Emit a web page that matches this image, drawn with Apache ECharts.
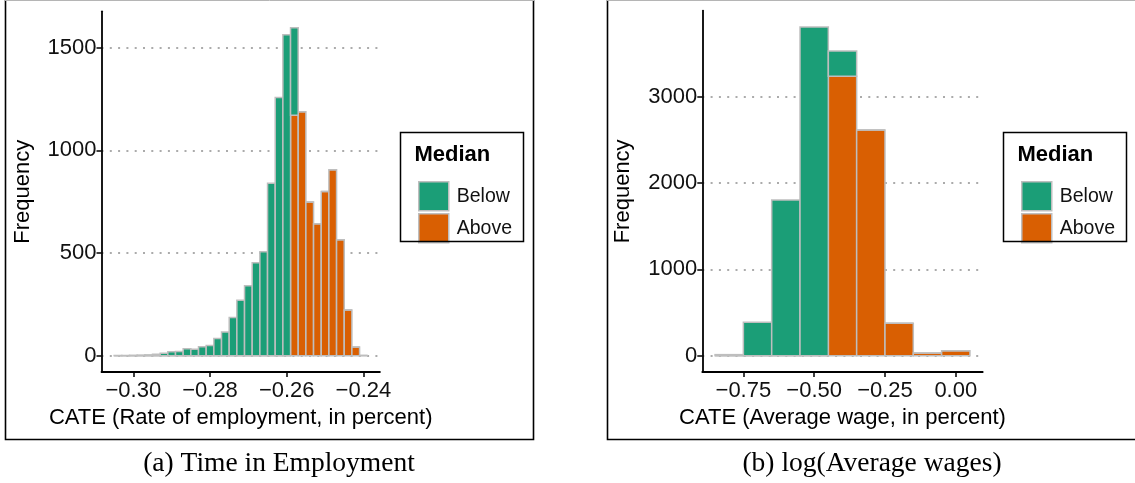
<!DOCTYPE html>
<html>
<head>
<meta charset="utf-8">
<script src="https://cdn.jsdelivr.net/npm/echarts@6/dist/echarts.min.js"></script>
<style>
  html, body { margin: 0; padding: 0; background: #ffffff; }
  #chart { width: 1135px; height: 483px; }
</style>
</head>
<body>
<div id="chart"></div>
<script>
// Panel (a): CATE on rate of employment, bins of width 0.002
const empBinWidth = 0.002;
const empCenters = [-0.304, -0.302, -0.300, -0.298, -0.296, -0.294, -0.292, -0.290, -0.288, -0.286,
                    -0.284, -0.282, -0.280, -0.278, -0.276, -0.274, -0.272, -0.270, -0.268, -0.266,
                    -0.264, -0.262, -0.260, -0.258, -0.256, -0.254, -0.252, -0.250, -0.248, -0.246,
                    -0.244, -0.242, -0.240];
const empBelow = [1, 1, 2, 3, 4, 7, 12, 19, 20, 34,
                  31, 44, 50, 84, 115, 186, 270, 340, 453, 506,
                  840, 1257, 1563, 426, 0, 0, 0, 0, 0, 0,
                  0, 0, 0];
const empAbove = [0, 0, 0, 0, 0, 0, 0, 0, 0, 0,
                  0, 0, 0, 0, 0, 0, 0, 0, 0, 0,
                  0, 0, 0, 1171, 1188, 748, 642, 799, 905, 565,
                  223, 42, 1];
const empXTicks = [-0.30, -0.28, -0.26, -0.24];
const empYTicks = [0, 500, 1000, 1500];

// Panel (b): CATE on log average wages, bins of width 0.1
const wageBinWidth = 0.1;
const wageCenters = [-0.8, -0.7, -0.6, -0.5, -0.4, -0.3, -0.2, -0.1, 0.0];
const wageBelow = [12, 386, 1803, 3807, 293, 0, 0, 0, 0];
const wageAbove = [0, 0, 0, 0, 3236, 2614, 375, 30, 58];
const wageXTicks = [-0.75, -0.50, -0.25, 0.00];
const wageYTicks = [0, 1000, 2000, 3000];

const groupNames = ['Below', 'Above'];
const COLOR_BELOW = '#1B9E77';
const COLOR_ABOVE = '#D95F02';
const OUTLINE = '#BEBEBE';
const SANS = '"Liberation Sans", Arial, Helvetica, sans-serif';
const SERIF = '"Liberation Serif", "Times New Roman", serif';

function rows(centers, below, above) {
  return centers.map((c, i) => [c, below[i], above[i]]);
}

// padded range like ggplot's default 5% expansion
function expand(lo, hi) {
  const pad = (hi - lo) * 0.05;
  return [lo - pad, hi + pad];
}

function stackedTotals(below, above) {
  return below.map((b, i) => b + above[i]);
}

// "Above" sits at the bottom of each stack, "Below" on top of it
function binRenderer(binWidth, part, fill) {
  return function (params, api) {
    const c = api.value(0);
    const below = api.value(1);
    const above = api.value(2);
    const lo = part === 'Above' ? 0 : above;
    const hi = part === 'Above' ? above : above + below;
    const p0 = api.coord([c - binWidth / 2, lo]);
    const p1 = api.coord([c + binWidth / 2, hi]);
    return {
      type: 'rect',
      shape: { x: p0[0], y: p1[1], width: p1[0] - p0[0], height: p0[1] - p1[1] },
      style: { fill: fill, stroke: OUTLINE, lineWidth: 1.5 }
    };
  };
}

function fmtTick(v) {
  return (v < 0 ? '\u2212' : '') + Math.abs(v).toFixed(2);
}

function fmtCount(v) {
  return String(Math.round(v));
}

const empX = expand(empCenters[0] - empBinWidth / 2, empCenters[empCenters.length - 1] + empBinWidth / 2);
const empY = expand(0, Math.max(...stackedTotals(empBelow, empAbove)));
const wageX = expand(wageCenters[0] - wageBinWidth / 2, wageCenters[wageCenters.length - 1] + wageBinWidth / 2);
const wageY = expand(0, Math.max(...stackedTotals(wageBelow, wageAbove)));

function xAxisFor(gridIndex, range, ticks, title) {
  return {
    type: 'value', gridIndex: gridIndex, min: range[0], max: range[1],
    name: title, nameLocation: 'middle', nameGap: 35,
    nameTextStyle: { fontFamily: SANS, fontSize: 22, color: '#000' },
    axisLine: { show: true, onZero: false, lineStyle: { color: '#000', width: 1.8 } },
    axisTick: { show: true, length: 5, customValues: ticks, lineStyle: { color: '#000', width: 1.5 } },
    axisLabel: { customValues: ticks, formatter: fmtTick, margin: 8, fontFamily: SANS, fontSize: 22, color: '#111' },
    splitLine: { show: false }
  };
}

function yAxisFor(gridIndex, range, ticks) {
  return {
    type: 'value', gridIndex: gridIndex, min: range[0], max: range[1],
    name: 'Frequency', nameLocation: 'middle', nameGap: 68, nameRotate: 90,
    nameTextStyle: { fontFamily: SANS, fontSize: 22, color: '#000' },
    axisLine: { show: true, onZero: false, lineStyle: { color: '#000', width: 1.8 } },
    axisTick: { show: true, length: 5, customValues: ticks, lineStyle: { color: '#000', width: 1.5 } },
    axisLabel: { customValues: ticks, formatter: fmtCount, margin: 5, fontFamily: SANS, fontSize: 22, color: '#111' },
    splitLine: { show: true, lineStyle: { color: '#ABABAB', width: 2, type: [2, 6.3] } }
  };
}

function legendFor(left) {
  return {
    left: left, top: 176, orient: 'vertical', icon: 'rect',
    itemWidth: 30, itemHeight: 29, itemGap: 1.5,
    data: groupNames, selectedMode: false,
    itemStyle: { borderColor: OUTLINE, borderWidth: 1.5 },
    textStyle: { fontFamily: SANS, fontSize: 19.5, color: '#111', padding: [0, 0, 0, 3] }
  };
}

function legendBox(x, y) {
  return [
    { type: 'rect', shape: { x: x, y: y, width: 123, height: 109 },
      style: { fill: 'none', stroke: '#000', lineWidth: 1.5 }, z: 100 },
    { type: 'text', x: x + 14, y: y + 22,
      style: { text: 'Median', fontFamily: SANS, fontWeight: 'bold', fontSize: 22, fill: '#000', verticalAlign: 'middle' }, z: 100 }
  ];
}

const option = {
  animation: false,
  backgroundColor: '#ffffff',
  grid: [
    { left: 101.5, top: 11.3, width: 278.4, height: 360.8, outerBoundsMode: 'none' },
    { left: 702.3, top: 10.6, width: 280.4, height: 361.5, outerBoundsMode: 'none' }
  ],
  xAxis: [
    xAxisFor(0, empX, empXTicks, 'CATE (Rate of employment, in percent)'),
    xAxisFor(1, wageX, wageXTicks, 'CATE (Average wage, in percent)')
  ],
  yAxis: [
    yAxisFor(0, empY, empYTicks),
    yAxisFor(1, wageY, wageYTicks)
  ],
  legend: [legendFor(413), legendFor(1016)],
  series: [
    { name: 'Above', type: 'custom', xAxisIndex: 0, yAxisIndex: 0, itemStyle: { color: COLOR_ABOVE },
      renderItem: binRenderer(empBinWidth, 'Above', COLOR_ABOVE), data: rows(empCenters, empBelow, empAbove) },
    { name: 'Below', type: 'custom', xAxisIndex: 0, yAxisIndex: 0, itemStyle: { color: COLOR_BELOW },
      renderItem: binRenderer(empBinWidth, 'Below', COLOR_BELOW), data: rows(empCenters, empBelow, empAbove) },
    { name: 'Above', type: 'custom', xAxisIndex: 1, yAxisIndex: 1, itemStyle: { color: COLOR_ABOVE },
      renderItem: binRenderer(wageBinWidth, 'Above', COLOR_ABOVE), data: rows(wageCenters, wageBelow, wageAbove) },
    { name: 'Below', type: 'custom', xAxisIndex: 1, yAxisIndex: 1, itemStyle: { color: COLOR_BELOW },
      renderItem: binRenderer(wageBinWidth, 'Below', COLOR_BELOW), data: rows(wageCenters, wageBelow, wageAbove) }
  ],
  graphic: [
    // subfigure frames (top edge clipped at the page boundary)
    { type: 'polyline', shape: { points: [[5.5, 0], [5.5, 439.5], [533.5, 439.5], [533.5, 0]] },
      style: { fill: 'none', stroke: '#000', lineWidth: 1.6 }, z: 100 },
    { type: 'line', shape: { x1: 5, y1: 0.5, x2: 534, y2: 0.5 }, style: { stroke: '#B5B5B5', lineWidth: 1 }, z: 100 },
    { type: 'polyline', shape: { points: [[607.5, 0], [607.5, 439.5], [1136, 439.5]] },
      style: { fill: 'none', stroke: '#000', lineWidth: 1.6 }, z: 100 },
    { type: 'line', shape: { x1: 607, y1: 0.5, x2: 1135, y2: 0.5 }, style: { stroke: '#B5B5B5', lineWidth: 1 }, z: 100 },
    ...legendBox(400.5, 132.5),
    ...legendBox(1003.5, 132.5),
    { type: 'text', x: 279, y: 464,
      style: { text: '(a) Time in Employment', fontFamily: SERIF, fontSize: 27.5, fill: '#000', align: 'center', verticalAlign: 'middle' } },
    { type: 'text', x: 872, y: 464,
      style: { text: '(b) log(Average wages)', fontFamily: SERIF, fontSize: 27.5, fill: '#000', align: 'center', verticalAlign: 'middle' } }
  ]
};

const chart = echarts.init(document.getElementById('chart'), null, { renderer: 'canvas' });
chart.setOption(option);
</script>
</body>
</html>
